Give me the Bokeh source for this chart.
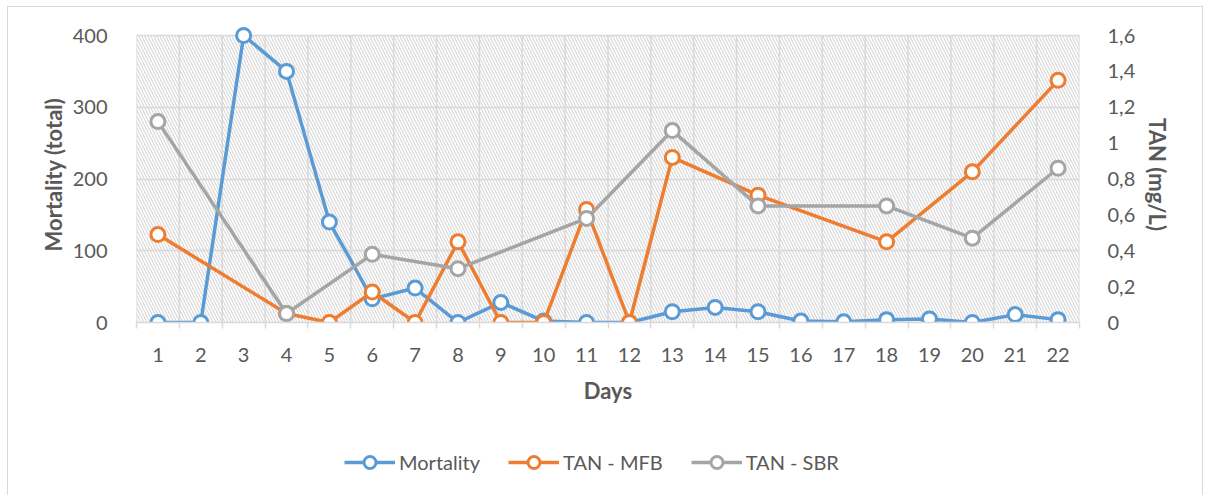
from bokeh.plotting import figure
from bokeh.layouts import column
from bokeh.models import (Range1d, LinearAxis, FixedTicker, BoxAnnotation, Legend, LegendItem)
from bokeh.embed import file_html
from bokeh.resources import INLINE

days = list(range(1, 23))
mortality = [0, 0, 400, 350, 140, 33, 48, 0, 28, 2, 0, 0, 15, 21, 15, 2, 1, 4, 5, 0, 11, 4]
tan_mfb = [0.49, None, None, 0.05, 0, 0.17, 0, 0.45, 0, 0, 0.63, 0, 0.92, None, 0.71,
           None, None, 0.45, None, 0.84, None, 1.35]
tan_sbr = [1.12, None, None, 0.05, None, 0.38, None, 0.30, None, None, 0.58, None, 1.07,
           None, 0.65, None, None, 0.65, None, 0.47, None, 0.86]
left_ticks = [0, 100, 200, 300, 400]
right_ticks = [0, 0.2, 0.4, 0.6, 0.8, 1.0, 1.2, 1.4, 1.6]
right_labels = ["0", "0,2", "0,4", "0,6", "0,8", "1", "1,2", "1,4", "1,6"]
series_names = ["Mortality", "TAN - MFB", "TAN - SBR"]

BLUE = "#5B9BD5"
ORANGE = "#ED7D31"
GRAY = "#A5A5A5"
TXT = "#595959"
GRID = "#D9D9D9"
FONT = "Lato"

LEFT_MAX = left_ticks[-1]
RIGHT_MAX = right_ticks[-1]
PAD = 296 / 287  # a little room above the plot area so top markers are not cut

p = figure(width=1194, height=415, output_backend="svg", toolbar_location=None,
           x_range=Range1d(0.5, 22.5), y_range=Range1d(0, LEFT_MAX * PAD),
           min_border_left=128, min_border_right=123, min_border_top=19, min_border_bottom=100)
p.outline_line_color = None
p.background_fill_color = "white"
p.extra_y_ranges = {"tan": Range1d(0, RIGHT_MAX * PAD)}

# hatched plot area
p.add_layout(BoxAnnotation(top=LEFT_MAX, fill_color="white", fill_alpha=1, line_color=None,
                           hatch_pattern="\\", hatch_color=GRID, hatch_scale=6,
                           hatch_weight=1.2, level="image"))

# category gridlines (between days), limited to the plot area
bounds = [d + 0.5 for d in range(0, 23)]
p.segment(x0=bounds, y0=[0] * len(bounds), x1=bounds, y1=[LEFT_MAX] * len(bounds),
          line_color=GRID, line_width=1.5, level="underlay")

# axes
p.xaxis.ticker = FixedTicker(ticks=days, minor_ticks=bounds)
p.xaxis.major_tick_out = 0
p.xaxis.major_tick_in = 0
p.xaxis.minor_tick_out = 6
p.xaxis.minor_tick_in = 0
p.xaxis.minor_tick_line_color = GRID
p.xaxis.minor_tick_line_width = 1.5
p.xaxis.axis_line_color = GRID
p.xaxis.axis_line_width = 1.5
p.xaxis.axis_label = "Days"
p.xaxis.major_label_standoff = 19

p.yaxis.ticker = FixedTicker(ticks=left_ticks)
p.yaxis.axis_line_color = None
p.yaxis.major_tick_line_color = None
p.yaxis.minor_tick_line_color = None
p.yaxis.axis_label = "Mortality (total)"
p.yaxis.major_label_standoff = 23

raxis = LinearAxis(y_range_name="tan", ticker=FixedTicker(ticks=right_ticks),
                   major_label_overrides={t: l for t, l in zip(right_ticks, right_labels)},
                   axis_label="TAN (mg/L)")
raxis.axis_line_color = None
raxis.major_tick_line_color = None
raxis.minor_tick_line_color = None
raxis.major_label_standoff = 22
p.add_layout(raxis, "right")

for ax in [p.xaxis[0], p.yaxis[0], raxis]:
    ax.major_label_text_font = FONT
    ax.major_label_text_font_size = "20px"
    ax.major_label_text_color = TXT
    ax.axis_label_text_font = FONT
    ax.axis_label_text_font_size = "22px"
    ax.axis_label_text_font_style = "bold"
    ax.axis_label_text_color = TXT
p.xaxis.axis_label_standoff = 12
p.yaxis.axis_label_standoff = 3
raxis.axis_label_standoff = 6

# grids
p.xgrid.visible = False
p.ygrid.ticker = FixedTicker(ticks=left_ticks)
p.ygrid.grid_line_color = GRID
p.ygrid.grid_line_width = 1.5

# series
def clean(xs, ys):
    pts = [(x, y) for x, y in zip(xs, ys) if y is not None]
    return [a for a, _ in pts], [b for _, b in pts]

colors = [BLUE, ORANGE, GRAY]
for ys, col, rng in [(mortality, BLUE, "default"), (tan_mfb, ORANGE, "tan"), (tan_sbr, GRAY, "tan")]:
    xx, yy = clean(days, ys)
    p.line(xx, yy, line_color=col, line_width=3.5, y_range_name=rng)
    p.scatter(xx, yy, size=14, fill_color="white", line_color=col, line_width=3, y_range_name=rng)

# legend strip (separate figure under the chart)
lg = figure(width=1194, height=73, output_backend="svg", toolbar_location=None,
            x_range=Range1d(0, 1), y_range=Range1d(0, 1), min_border=0)
lg.axis.visible = False
lg.grid.visible = False
lg.outline_line_color = None
items = []
for name, col in zip(series_names, colors):
    lr = lg.line([-5, -4], [-5, -4], line_color=col, line_width=3.5)
    sr = lg.scatter([-5], [-5], size=14, fill_color="white", line_color=col, line_width=3)
    items.append(LegendItem(label=name, renderers=[lr, sr]))
legend = Legend(items=items, orientation="horizontal", location=(208, 18),
                glyph_width=51, glyph_height=30, label_standoff=4, spacing=28,
                padding=0, margin=0, border_line_color=None, background_fill_alpha=0,
                label_text_font=FONT, label_text_font_size="20px", label_text_color=TXT)
lg.add_layout(legend)

layout = column(p, lg, spacing=0,
                styles={"border": "1px solid #D9D9D9", "margin-left": "7px", "margin-top": "6px"})

open("out.html", "w").write(file_html(layout, INLINE))
